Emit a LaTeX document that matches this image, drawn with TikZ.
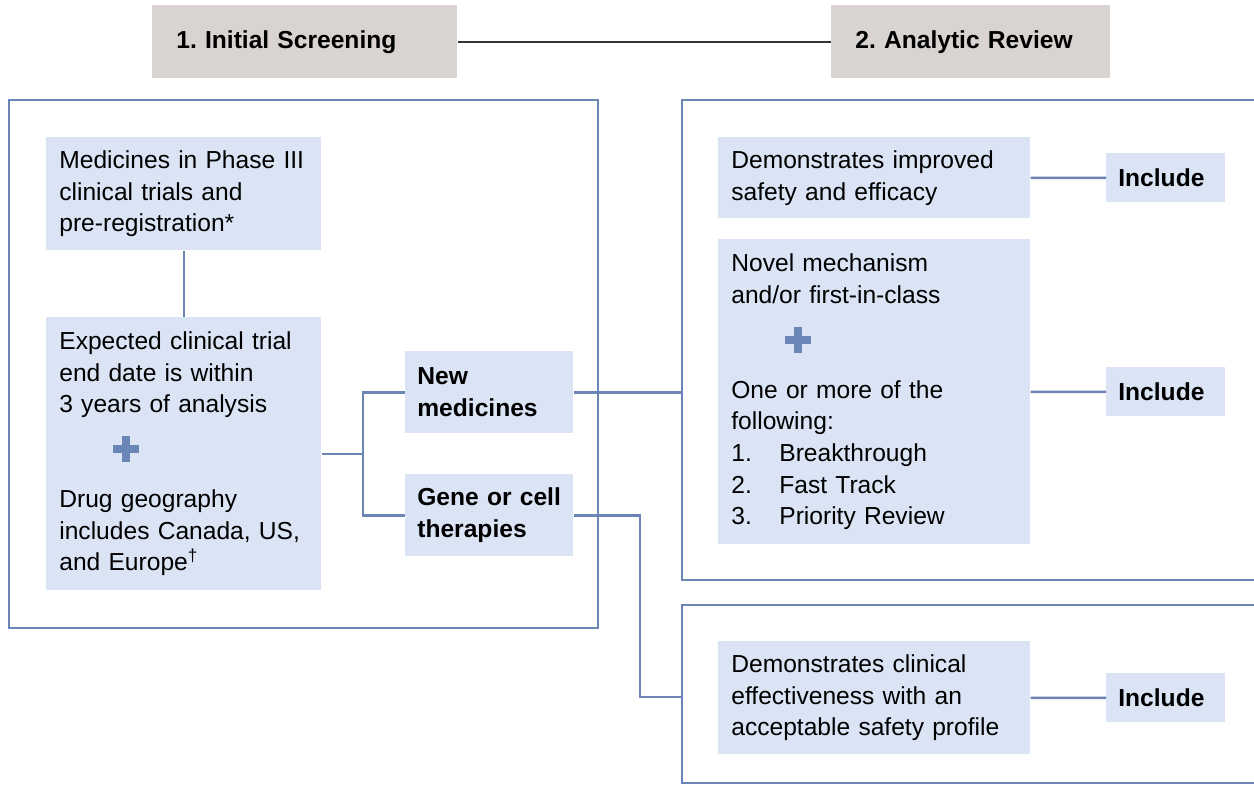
\documentclass[tikz,border=0pt]{standalone}
\usepackage{fontspec}
\setmainfont{Liberation Sans}
\usepackage{xcolor}
\usetikzlibrary{calc, positioning}
\frenchspacing

\definecolor{molduraazul}{HTML}{6B86B6}
\definecolor{caixaazul}{HTML}{DAE4F5}
\definecolor{cabecalho}{HTML}{D9D4D1}
\definecolor{linhaescura}{HTML}{333333}

\newcommand{\numitem}[1]{\makebox[0.96cm][l]{#1}}

\tikzset{
  caixa/.style={fill=caixaazul, anchor=north west, align=left, inner xsep=0.26cm, inner ysep=0pt},
  etapa/.style={fill=cabecalho, anchor=north west, align=left, inner xsep=0.48cm, inner ysep=0pt,
    minimum height=1.46cm, font=\fontsize{14}{18}\selectfont\bfseries},
  rotulo/.style={caixa, inner xsep=0.24cm, font=\fontsize{14}{18}\selectfont\bfseries},
  moldura/.style={draw=molduraazul, line width=1.2pt},
  ligacao/.style={draw=molduraazul, line width=1.5pt},
}

\begin{document}
\begin{tikzpicture}[x=0.02cm, y=-0.02cm, font=\fontsize{14}{18}\selectfont]
\useasboundingbox (0,0) rectangle (1254,785);

% Cabeçalhos das duas etapas:
\node[etapa, text width=5.14cm] (triagem) at (152,5) {1. Initial Screening};
\node[etapa, text width=4.62cm] (analise) at (831,5) {2. Analytic Review};
\draw[linhaescura, line width=1.2pt] (triagem.east) -- (analise.west);

% Molduras (a da direita fica aberta na borda):
\draw[moldura] (9,100) rectangle (598,628);
\draw[moldura] (1256,100) -- (682,100) -- (682,580) -- (1256,580);
\draw[moldura] (1256,605) -- (682,605) -- (682,783) -- (1256,783);
\coordinate (bordasup) at (682,100);
\coordinate (bordainf) at (682,605);
\coordinate (desvio) at (640,697);
\coordinate (ramo) at (363,453);

% Etapa 1: critérios de triagem
\node[caixa, text width=4.98cm, minimum height=2.26cm] (fase) at (46,137)
  {Medicines in Phase III\\clinical trials and\\pre-registration*};
\node[caixa, text width=4.98cm, minimum height=5.46cm] (criterios) at (46,317)
  {Expected clinical trial\\end date is within\\3 years of analysis\\[36pt]Drug geography\\includes Canada, US,\\and Europe\textsuperscript{\textdagger}};
\node[rotulo, text width=2.88cm, minimum height=1.64cm] (novos) at (405,351) {New\\medicines};
\node[rotulo, text width=2.88cm, minimum height=1.64cm] (genes) at (405,474) {Gene or cell\\therapies};

% Etapa 2: revisão analítica
\node[caixa, text width=5.72cm, minimum height=1.62cm] (seguranca) at (718,137)
  {Demonstrates improved\\safety and efficacy};
\node[caixa, text width=5.72cm, minimum height=6.1cm] (mecanismo) at (718,239)
  {Novel mechanism\\and/or first-in-class\\[36pt]One or more of the\\following:\\\numitem{1.}Breakthrough\\\numitem{2.}Fast Track\\\numitem{3.}Priority Review};
\node[caixa, text width=5.72cm, minimum height=2.26cm] (eficacia) at (718,641)
  {Demonstrates clinical\\effectiveness with an\\acceptable safety profile};
\node[rotulo, text width=1.9cm, minimum height=0.98cm] (inclui1) at (1106,153) {Include};
\node[rotulo, text width=1.9cm, minimum height=0.98cm] (inclui2) at (1106,367) {Include};
\node[rotulo, text width=1.9cm, minimum height=0.98cm] (inclui3) at (1106,673) {Include};

% Sinais de mais:
\foreach \px/\py in {126/449, 798/340} {
  \fill[molduraazul] (\px-13,\py-4) rectangle (\px+13,\py+4);
  \fill[molduraazul] (\px-4,\py-13) rectangle (\px+4,\py+13);
}

% Ligações entre as caixas:
\draw[ligacao] (fase) -- (criterios);
\draw[ligacao] (criterios.east) -- (criterios.east -| ramo);
\draw[ligacao] (novos.west) -- (novos.west -| ramo) -- (genes.west -| ramo) -- (genes.west);
\draw[ligacao] (novos.east) -- (novos.east -| bordasup);
\draw[ligacao] (genes.east) -| (desvio) -- (desvio -| bordainf);
\draw[ligacao] (seguranca) -- (inclui1);
\draw[ligacao] (mecanismo) -- (inclui2);
\draw[ligacao] (eficacia) -- (inclui3);
\end{tikzpicture}
\end{document}
